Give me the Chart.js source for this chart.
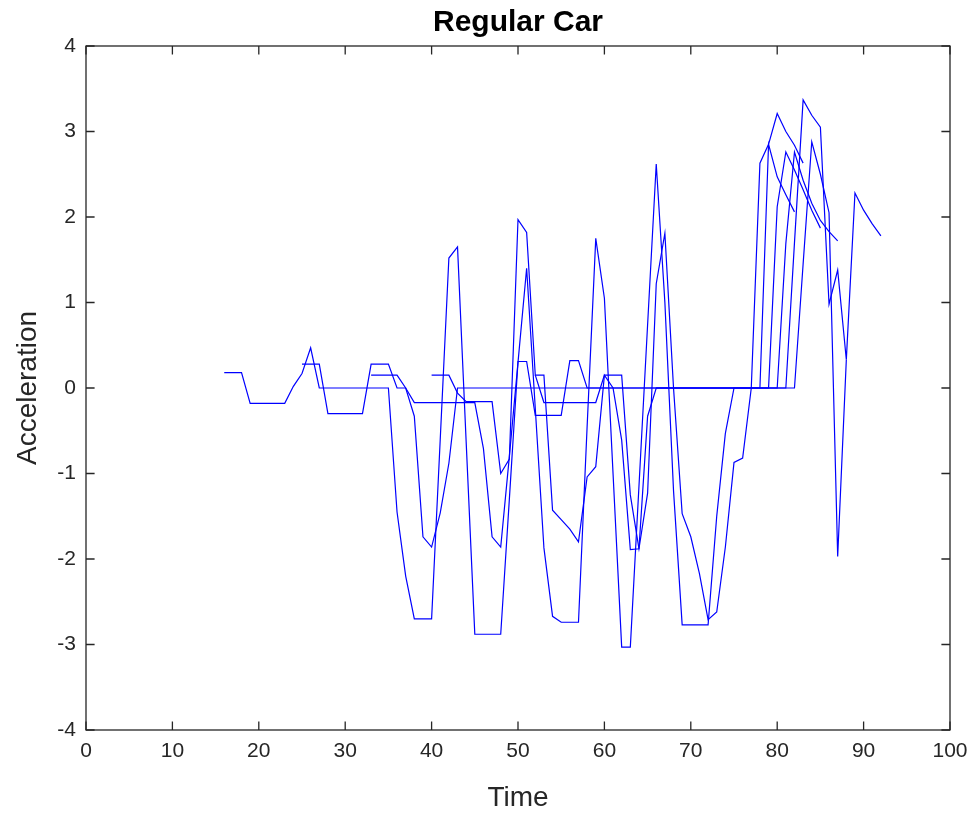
<!DOCTYPE html>
<html lang="en">
<head>
<meta charset="UTF-8">
<title>Regular Car</title>
<script src="https://cdn.jsdelivr.net/npm/chart.js"></script>
<style>
  html, body { margin: 0; padding: 0; background: #fff; }
  #wrap { width: 979px; height: 815px; }
</style>
</head>
<body>
<div id="wrap"><canvas id="accChart" width="979" height="815"></canvas></div>
<script>
// one acceleration trace per car, sampled once per time step
const car1Start = 16;
const car1 = [0.18, 0.18, 0.18, -0.18, -0.18, -0.18, -0.18, -0.18, 0.02, 0.17, 0.47,
  0, 0, 0, 0, 0, 0, 0, 0, 0,
  -1.45, -2.2, -2.7, -2.7, -2.7, -0.6, 1.52, 1.65, -0.63, -2.88, -2.88, -2.88, -2.88, -1.3,
  0.31, 0.31, -0.32, -0.32, -0.32, -0.32, 0.32, 0.32,
  0, 0, 0, 0, 0, 0, 0, 0, 0, 0, 0, 0, 0, 0, 0, 0, 0, 0, 0, 0, 0,
  2.85, 2.47, 2.26, 2.06];

const car2Start = 25;
const car2 = [0.28, 0.28, 0.28, -0.3, -0.3, -0.3, -0.3, -0.3, 0.28, 0.28, 0.28, 0, 0,
  -0.33, -1.74, -1.86, -1.46, -0.88,
  0, 0, 0, 0, 0, 0, 0, 0, 0, 0, 0, 0, 0, 0, 0, 0, 0, 0, 0, 0, 0, 0, 0, 0, 0, 0, 0, 0, 0, 0, 0, 0, 0, 0, 0, 0, 0,
  2.12, 2.76, 2.55, 2.32, 2.08, 1.87];

const car3Start = 33;
const car3 = [0.15, 0.15, 0.15, 0.15, 0, -0.17, -0.17, -0.17, -0.17, -0.17, -0.17, -0.17, -0.17,
  -0.71, -1.74, -1.86, -0.8, 0.3, 1.4, -0.24, -1.87, -2.67, -2.74, -2.74, -2.74,
  -0.45, 1.75, 1.05, -1.0, -3.03, -3.03, -1.15, 0.74, 2.62, 1.0, -1.2,
  -2.77, -2.77, -2.77, -2.77, -1.5, -0.53,
  0, 0, 0, 0, 0, 0,
  1.69, 2.76, 2.43, 2.16, 1.96, 1.83, 1.72];

const car4Start = 40;
const car4 = [0.15, 0.15, 0.15, -0.06, -0.16, -0.16, -0.16, -0.16, -1.0, -0.83, 1.97, 1.82,
  0.15, 0.15, -1.43, -1.54, -1.65, -1.8, -1.04, -0.92, 0.15, 0, -0.61, -1.89, -1.88, -0.33,
  0, 0, 0, 0, 0, 0, 0, 0, 0, 0, 0, 0, 0, 0, 0, 0,
  1.7, 3.37, 3.19, 3.05, 0.98, 1.38, 0.33, 2.28, 2.08, 1.92, 1.78];

const car5Start = 52;
const car5 = [0.15, -0.17, -0.17, -0.17, -0.17, -0.17, -0.17, -0.17, 0.15, 0.15, 0.15,
  -1.25, -1.88, -1.23, 1.22, 1.81, 0, -1.47, -1.74, -2.17, -2.71, -2.62, -1.86, -0.87, -0.82,
  0, 2.63, 2.85, 3.21, 3.0, 2.84, 2.63];

const car6Start = 66;
const car6 = [0, 0, 0, 0, 0, 0, 0, 0, 0, 0, 0, 0, 0, 0, 0, 0, 0,
  1.45, 2.88, 2.5, 2.05, -1.97, 0.33];

const cars = [
  [car1Start, car1], [car2Start, car2], [car3Start, car3],
  [car4Start, car4], [car5Start, car5], [car6Start, car6]
];

const xTicks = [0, 10, 20, 30, 40, 50, 60, 70, 80, 90, 100];
const yTicks = [-4, -3, -2, -1, 0, 1, 2, 3, 4];

const FONT = '"Liberation Sans", Arial, Helvetica, sans-serif';
const AXIS_COLOR = '#262626';

// MATLAB style box with inward ticks on all four sides
const boxPlugin = {
  id: 'boxPlugin',
  afterDatasetsDraw(chart) {
    const { ctx, chartArea: a, scales: { x, y } } = chart;
    const len = 8.6;
    ctx.save();
    ctx.strokeStyle = AXIS_COLOR;
    ctx.lineWidth = 1.3;
    ctx.strokeRect(a.left, a.top, a.right - a.left, a.bottom - a.top);
    ctx.beginPath();
    xTicks.forEach(v => {
      const px = x.getPixelForValue(v);
      ctx.moveTo(px, a.bottom); ctx.lineTo(px, a.bottom - len);
      ctx.moveTo(px, a.top); ctx.lineTo(px, a.top + len);
    });
    yTicks.forEach(v => {
      const py = y.getPixelForValue(v);
      ctx.moveTo(a.left, py); ctx.lineTo(a.left + len, py);
      ctx.moveTo(a.right, py); ctx.lineTo(a.right - len, py);
    });
    ctx.stroke();
    ctx.restore();
  }
};

const datasets = cars.map(([start, vals], i) => ({
  label: 'Car ' + (i + 1),
  data: vals.map((v, k) => ({ x: start + k, y: v })),
  borderColor: '#0000ff',
  borderWidth: 1.2,
  pointRadius: 0,
  tension: 0,
  fill: false
}));

const ctx = document.getElementById('accChart').getContext('2d');
new Chart(ctx, {
  type: 'line',
  data: { datasets },
  options: {
    responsive: false,
    animation: false,
    devicePixelRatio: 1,
    layout: { padding: { left: 0, right: 29, top: 0, bottom: 0 } },
    plugins: {
      legend: { display: false },
      tooltip: { enabled: false },
      title: {
        display: true,
        fullSize: false,
        text: 'Regular Car',
        color: '#000',
        font: { family: FONT, size: 30, weight: 'bold' },
        padding: { top: 5, bottom: 5 }
      }
    },
    scales: {
      x: {
        type: 'linear',
        min: 0, max: 100,
        afterBuildTicks: s => { s.ticks = xTicks.map(v => ({ value: v })); },
        ticks: { color: AXIS_COLOR, font: { family: FONT, size: 21 }, padding: 9, maxRotation: 0 },
        grid: { display: false, drawTicks: false },
        border: { display: false },
        title: { display: true, text: 'Time', color: AXIS_COLOR, font: { family: FONT, size: 28 }, padding: { top: 0, bottom: 0 } },
        afterFit: s => { s.height = 85; }
      },
      y: {
        type: 'linear',
        min: -4, max: 4,
        afterBuildTicks: s => { s.ticks = yTicks.map(v => ({ value: v })); },
        ticks: { color: AXIS_COLOR, font: { family: FONT, size: 21 }, padding: 10 },
        grid: { display: false, drawTicks: false },
        border: { display: false },
        title: { display: true, text: 'Acceleration', color: AXIS_COLOR, font: { family: FONT, size: 28 }, padding: { top: 11, bottom: 0 } },
        afterFit: s => { s.width = 86; }
      }
    }
  },
  plugins: [boxPlugin]
});
</script>
</body>
</html>
